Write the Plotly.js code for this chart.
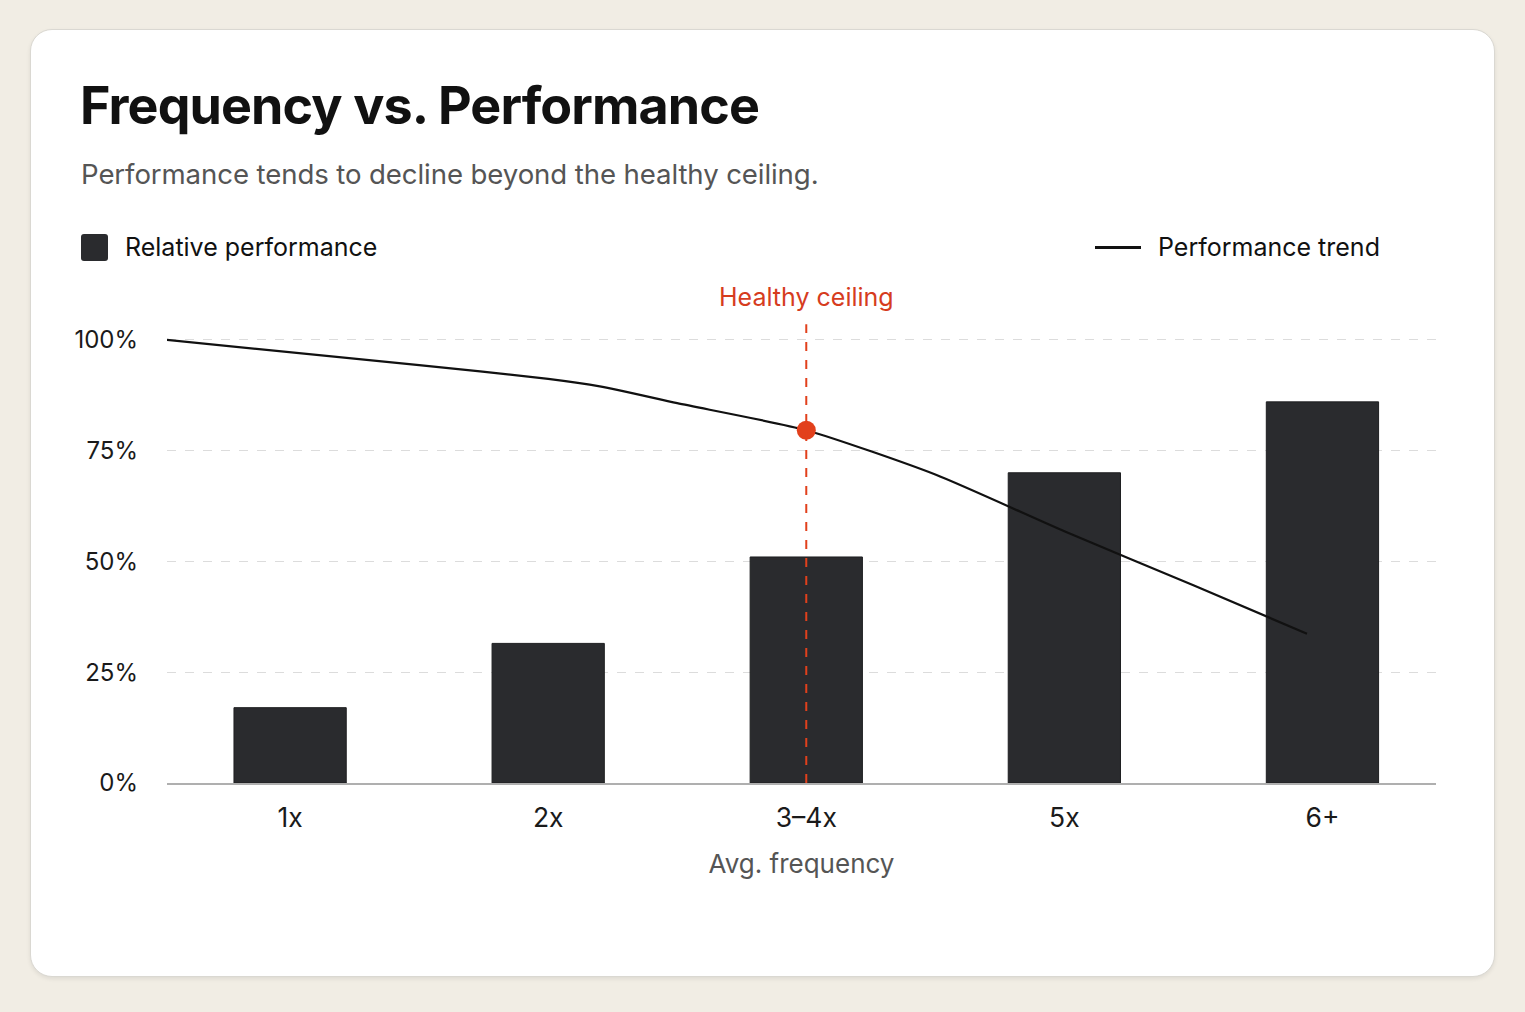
<!DOCTYPE html>
<html>
<head>
<meta charset="utf-8">
<script src="https://cdn.plot.ly/plotly-3.0.1.min.js"></script>
<style>
  html, body { margin: 0; padding: 0; }
  body {
    width: 1525px; height: 1012px; overflow: hidden;
    background: #F1EDE4;
    font-family: Inter, "Noto Sans", sans-serif;
  }
  .card {
    position: absolute; left: 30px; top: 29px;
    width: 1463px; height: 946px;
    background: #FFFFFF;
    border: 1px solid #DAD8D2;
    border-radius: 22px;
    box-shadow: 0 2px 4px rgba(0, 0, 0, 0.08);
  }
  .title {
    position: absolute; left: 49px; top: 50px;
    font-size: 52px; font-weight: 700; color: #111111;
    letter-spacing: -0.9px; line-height: 1;
  }
  .subtitle {
    position: absolute; left: 50px; top: 131px;
    font-size: 27.6px; color: #555555; line-height: 1;
    letter-spacing: -0.1px;
  }
  .legend {
    position: absolute; top: 203px;
    font-size: 25px; color: #111111; line-height: 28px;
    display: flex; align-items: center;
  }
  .legend .box {
    width: 27px; height: 27px; border-radius: 3px;
    background: #2A2B2E; margin-right: 17px;
  }
  .legend .ln {
    width: 46px; height: 3px; background: #111111; margin-right: 17px;
  }
  #chart { position: absolute; left: 0; top: 240px; width: 1463px; height: 700px; }
</style>
</head>
<body>
<div class="card">
  <div class="title">Frequency vs. Performance</div>
  <div class="subtitle">Performance tends to decline beyond the healthy ceiling.</div>
  <div class="legend" style="left:50px"><span class="box"></span>Relative performance</div>
  <div class="legend" style="left:1064px"><span class="ln"></span>Performance trend</div>
  <div id="chart"></div>
</div>
<script>
// ---------------------------------------------------------------------------
// Data
// ---------------------------------------------------------------------------
const categories = ["1x", "2x", "3\u20134x", "5x", "6+"];
const relativePerformance = [17, 31.5, 51, 70, 86];

// trend line sits on a numeric overlay axis (0 = first category centre)
const trendX = [-0.48, 0.5, 1.0, 1.2, 1.5, 2.0, 2.5, 3.0, 3.5, 3.94];
const trendY = [100, 94.3, 91.2, 89.5, 85.7, 79.6, 69.6, 56.8, 44.6, 33.7];

const ceilingIndex = 2;      // "3–4x"
const ceilingValue = 79.6;
const yTicks = [0, 25, 50, 75, 100];
const yTickText = ["0%", "25%", "50%", "75%", "100%"];

const ACCENT = "#E2401C";
const BAR_COLOR = "#2A2B2E";
const GRID = "#DCDCDC";

const X_RANGE = [-0.477, 4.44];
const Y_RANGE = [0, 113.5];

const traces = [
  {
    x: categories,
    y: relativePerformance,
    type: "bar",
    width: 0.435,
    marker: { color: BAR_COLOR, line: { color: "#1E1F21", width: 1 } },
    hoverinfo: "skip",
  },
  {
    x: trendX,
    y: trendY,
    xaxis: "x2",
    type: "scatter",
    mode: "lines",
    line: { color: "#111111", width: 2.2, shape: "spline", smoothing: 0.6 },
    cliponaxis: false,
    hoverinfo: "skip",
  },
  {
    x: [ceilingIndex],
    y: [ceilingValue],
    xaxis: "x2",
    type: "scatter",
    mode: "markers",
    marker: { color: ACCENT, size: 19 },
    cliponaxis: false,
    hoverinfo: "skip",
  },
];

const layout = {
  width: 1463,
  height: 700,
  margin: { l: 136, r: 58, t: 10, b: 187 },
  paper_bgcolor: "rgba(0,0,0,0)",
  plot_bgcolor: "rgba(0,0,0,0)",
  showlegend: false,
  font: { family: "Inter, 'Noto Sans', sans-serif", color: "#1A1A1A", size: 24 },
  xaxis: {
    type: "category",
    range: X_RANGE,
    showgrid: false,
    zeroline: false,
    showline: true,
    linecolor: "#AFAFAF",
    linewidth: 1.5,
    ticks: "",
    ticklabelstandoff: 11,
    tickfont: { size: 26.5, color: "#1A1A1A" },
    title: {
      text: "Avg. frequency",
      font: { size: 26, color: "#555555" },
      standoff: 22,
    },
    fixedrange: true,
  },
  xaxis2: {
    type: "linear",
    overlaying: "x",
    range: X_RANGE,
    visible: false,
    fixedrange: true,
  },
  yaxis: {
    range: Y_RANGE,
    tickvals: yTicks,
    ticktext: yTickText,
    showgrid: true,
    gridcolor: GRID,
    griddash: "dash",
    gridwidth: 1,
    zeroline: false,
    showline: false,
    ticks: "",
    ticklabelstandoff: 28,
    tickfont: { size: 24, color: "#1A1A1A" },
    fixedrange: true,
  },
  shapes: [
    {
      type: "line",
      xref: "x2",
      yref: "y",
      x0: ceilingIndex,
      x1: ceilingIndex,
      y0: 0,
      y1: 103.5,
      line: { color: ACCENT, width: 2, dash: "dash" },
      layer: "above",
    },
  ],
  annotations: [
    {
      xref: "x2",
      yref: "y",
      x: ceilingIndex,
      y: 109.6,
      text: "Healthy ceiling",
      showarrow: false,
      font: { size: 25, color: "#D63C1E" },
      xanchor: "center",
      yanchor: "middle",
    },
  ],
};

Plotly.newPlot("chart", traces, layout, { displayModeBar: false, staticPlot: true });
</script>
</body>
</html>
